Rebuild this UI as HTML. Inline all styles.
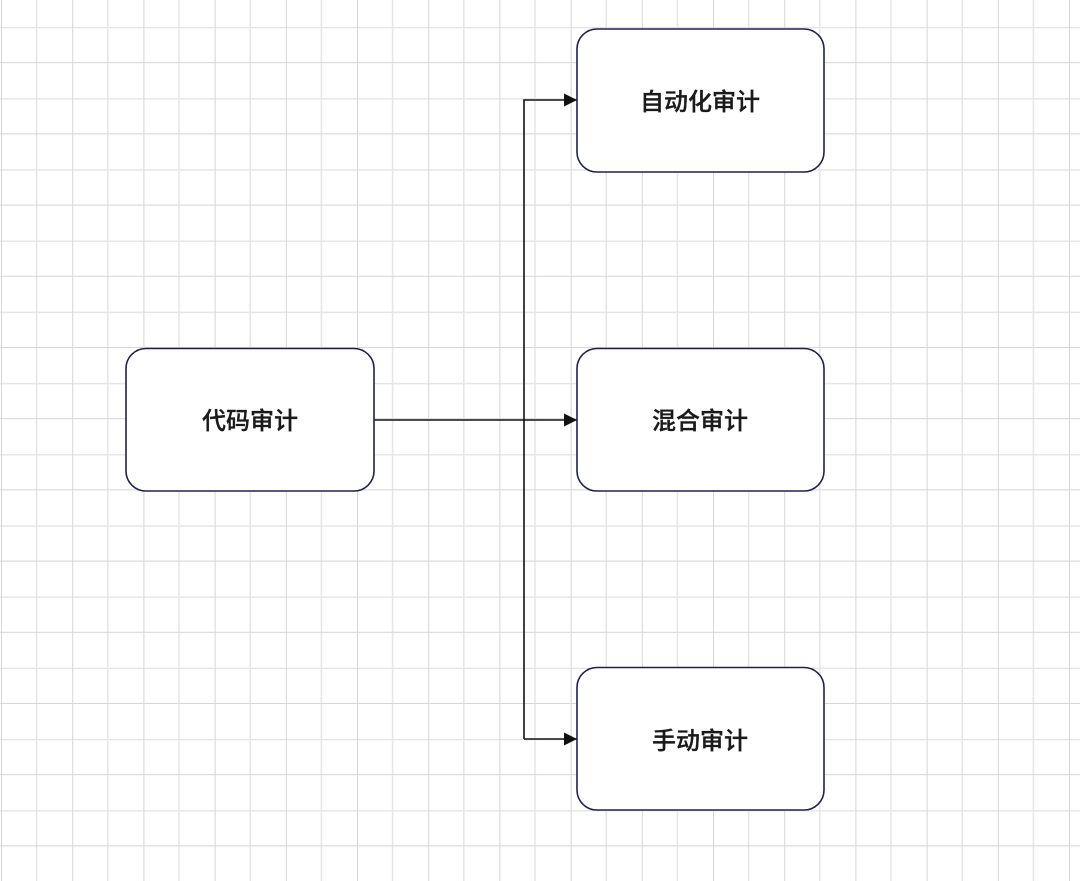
<!DOCTYPE html>
<html><head><meta charset="utf-8"><style>
html,body{margin:0;padding:0;background:#fff;}
svg{display:block}
text{font-family:"Liberation Sans","Noto Sans CJK SC",sans-serif;font-size:24px;font-weight:500;fill:#1a1a1a;stroke:#1a1a1a;stroke-width:0.3px;}
</style></head><body>
<svg width="1080" height="881" viewBox="0 0 1080 881" xmlns="http://www.w3.org/2000/svg">
<defs>
<pattern id="g" x="1" y="-8" width="71.2" height="71.2" patternUnits="userSpaceOnUse">
<line x1="35.6" y1="0" x2="35.6" y2="71.2" stroke="#e6e6e6" stroke-width="1.6"/>
<line x1="0" y1="35.6" x2="71.2" y2="35.6" stroke="#e6e6e6" stroke-width="1.6"/>
<line x1="0" y1="0" x2="0" y2="71.2" stroke="#d6d6d6" stroke-width="2"/>
<line x1="0" y1="71.2" x2="71.2" y2="71.2" stroke="#d6d6d6" stroke-width="2"/>
</pattern>
<marker id="a" markerWidth="14" markerHeight="14" refX="13" refY="6.5" orient="auto" markerUnits="userSpaceOnUse">
<path d="M0,0 L13,6.5 L0,13 z" fill="#111"/>
</marker>
</defs>
<rect width="1080" height="881" fill="#fff"/>
<rect width="1080" height="881" fill="url(#g)"/>
<g fill="none" stroke="#111" stroke-width="1.6">
<path d="M374,420 H577" marker-end="url(#a)"/>
<path d="M524,739 V100 H577" marker-end="url(#a)"/>
<path d="M524,739 H577" marker-end="url(#a)"/>
</g>
<g fill="#fff" stroke="#1f2150" stroke-width="1.6">
<rect x="126" y="348.5" width="248" height="142.5" rx="20"/>
<rect x="577" y="29" width="247" height="143" rx="20"/>
<rect x="577" y="348.5" width="247" height="142.5" rx="20"/>
<rect x="577" y="667.5" width="247" height="142.5" rx="20"/>
</g>
<text x="250" y="429" text-anchor="middle">代码审计</text>
<text x="700" y="110" text-anchor="middle">自动化审计</text>
<text x="700" y="429" text-anchor="middle">混合审计</text>
<text x="700" y="749" text-anchor="middle">手动审计</text>
</svg>
</body></html>
